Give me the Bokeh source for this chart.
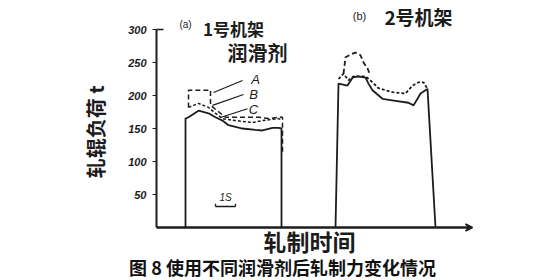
from bokeh.plotting import figure
from bokeh.models import Range1d, FixedTicker, Label, Arrow, VeeHead
from bokeh.embed import file_html
from bokeh.resources import INLINE

# ---- data (time in s, roll load in t) ----
y_ticks = [50, 100, 150, 200, 250, 300]

# (a) stand No.1
a_A_t = [1.6, 1.6, 2.7, 2.7, 3.45, 4.3, 5.1, 5.6, 6.1, 6.3, 6.3]
a_A_y = [182, 208, 208, 185, 167, 167, 167, 165, 167, 167, 110]
a_B_t = [1.6, 1.85, 2.1, 2.6, 2.95, 3.3, 3.95, 4.8, 5.3, 5.8, 6.1, 6.25]
a_B_y = [182, 185, 188, 182, 173, 165, 162, 159, 162, 164, 165, 163]
a_C_t = [1.45, 1.45, 1.6, 2.1, 2.6, 2.95, 3.3, 3.6, 4.3, 4.95, 5.3, 5.8, 6.1, 6.25, 6.25]
a_C_y = [0, 165, 167, 177, 173, 167, 162, 155, 150, 148, 147, 151, 151, 150, 0]

# (b) stand No.2
b_A_t = [9.35, 9.45, 9.7, 9.95, 10.2, 10.35, 10.55, 10.7]
b_A_y = [233, 258, 262, 265, 261, 250, 241, 230]
b_B_t = [9.1, 9.35, 9.6, 9.85, 10.45, 10.8, 11.1, 11.8, 12.45, 12.8, 13.1, 13.35, 13.55]
b_B_y = [225, 233, 223, 229, 229, 220, 211, 205, 203, 215, 220, 220, 210]
b_C_t = [8.95, 9.1, 9.55, 9.8, 10.05, 10.45, 10.6, 10.8, 11.3, 11.95, 12.6, 12.85, 13.05, 13.2, 13.45, 13.55, 13.95]
b_C_y = [0, 218, 215, 227, 229, 227, 218, 208, 195, 192, 189, 185, 195, 203, 208, 210, 0]

INK = "#1c1c1c"
CJK = "Noto Sans CJK SC"

p = figure(width=548, height=280, output_backend="svg", toolbar_location=None,
           x_range=Range1d(-7.8, 19.6), y_range=Range1d(-80.30, 343.94),
           min_border_left=0, min_border_right=0, min_border_top=0, min_border_bottom=0)
p.xaxis.visible = False
p.grid.visible = False
p.outline_line_color = None
p.background_fill_color = "white"
p.border_fill_color = "white"

ax = p.yaxis[0]
ax.fixed_location = 0
ax.bounds = (0, 300)
ax.ticker = FixedTicker(ticks=y_ticks)
ax.axis_line_width = 2
ax.axis_line_color = INK
ax.major_tick_out = 4
ax.major_tick_in = 0
ax.major_tick_line_color = INK
ax.minor_tick_line_color = None
ax.major_label_standoff = 6
ax.major_label_text_font = "Liberation Sans"
ax.major_label_text_font_style = "bold italic"
ax.major_label_text_font_size = "11px"
ax.major_label_text_color = INK

# curves
p.line(a_A_t, a_A_y, line_color=INK, line_width=1.5, line_dash="5 3")
p.line(a_B_t, a_B_y, line_color=INK, line_width=1.5, line_dash="3 2")
p.line(a_C_t, a_C_y, line_color=INK, line_width=1.8)
p.line(b_A_t, b_A_y, line_color=INK, line_width=1.8, line_dash="5 3")
p.line(b_B_t, b_B_y, line_color=INK, line_width=1.8, line_dash="3 2")
p.line(b_C_t, b_C_y, line_color=INK, line_width=1.8)

# x axis with arrow, small top tick on y axis
p.add_layout(Arrow(end=VeeHead(size=7, line_color=INK, fill_color=INK, line_width=1.5),
                   x_start=0, y_start=0, x_end=15.8, y_end=0,
                   line_color=INK, line_width=2.5))
p.segment(x0=[0], y0=[300], x1=[0.35], y1=[300], line_color=INK, line_width=1.5)

# leader lines for A, B, C
p.segment(x0=[4.3, 4.35, 4.55], y0=[222.7, 201.5, 180],
          x1=[2.85, 2.8, 3.2], y1=[204.5, 185, 166.7], line_color=INK, line_width=1.2)

# 1 s scale bar
p.segment(x0=[2.95, 2.95, 3.95], y0=[31.8, 31.8, 31.8], x1=[3.95, 2.95, 3.95], y1=[31.8, 36, 36],
          line_color=INK, line_width=1.3)


def lab(x, y, text, size, font=CJK, style="normal", angle=0.0, color=INK):
    p.add_layout(Label(x=x, y=y, text=text, text_font=font, text_font_size=size,
                       text_font_style=style, text_color=color, text_align="center",
                       text_baseline="middle", angle=angle))


lab(1.45, 307.6, "(a)", "10px", font="Liberation Sans")
lab(3.85, 301.5, "1号机架", "17px", style="bold")
lab(5.05, 265, "润滑剂", "20px", style="bold")
lab(10.15, 320, "(b)", "11px", font="Liberation Sans")
lab(13.1, 320, "2号机架", "19px", style="bold")
lab(4.95, 224, "A", "13px", font="Liberation Sans", style="italic")
lab(4.85, 201.5, "B", "13px", font="Liberation Sans", style="italic")
lab(4.85, 179, "C", "13px", font="Liberation Sans", style="italic")
lab(3.45, 45.5, "1S", "10px", font="Liberation Sans", style="italic")
lab(-3.05, 145, "轧辊负荷 t", "20px", style="bold", angle=1.5708)
lab(7.65, -19.7, "轧制时间", "23px", style="bold")
lab(6.3, -60.6, "图 8 使用不同润滑剂后轧制力变化情况", "18px", style="bold", color="#111111")

open("out.html", "w").write(file_html(p, INLINE))
